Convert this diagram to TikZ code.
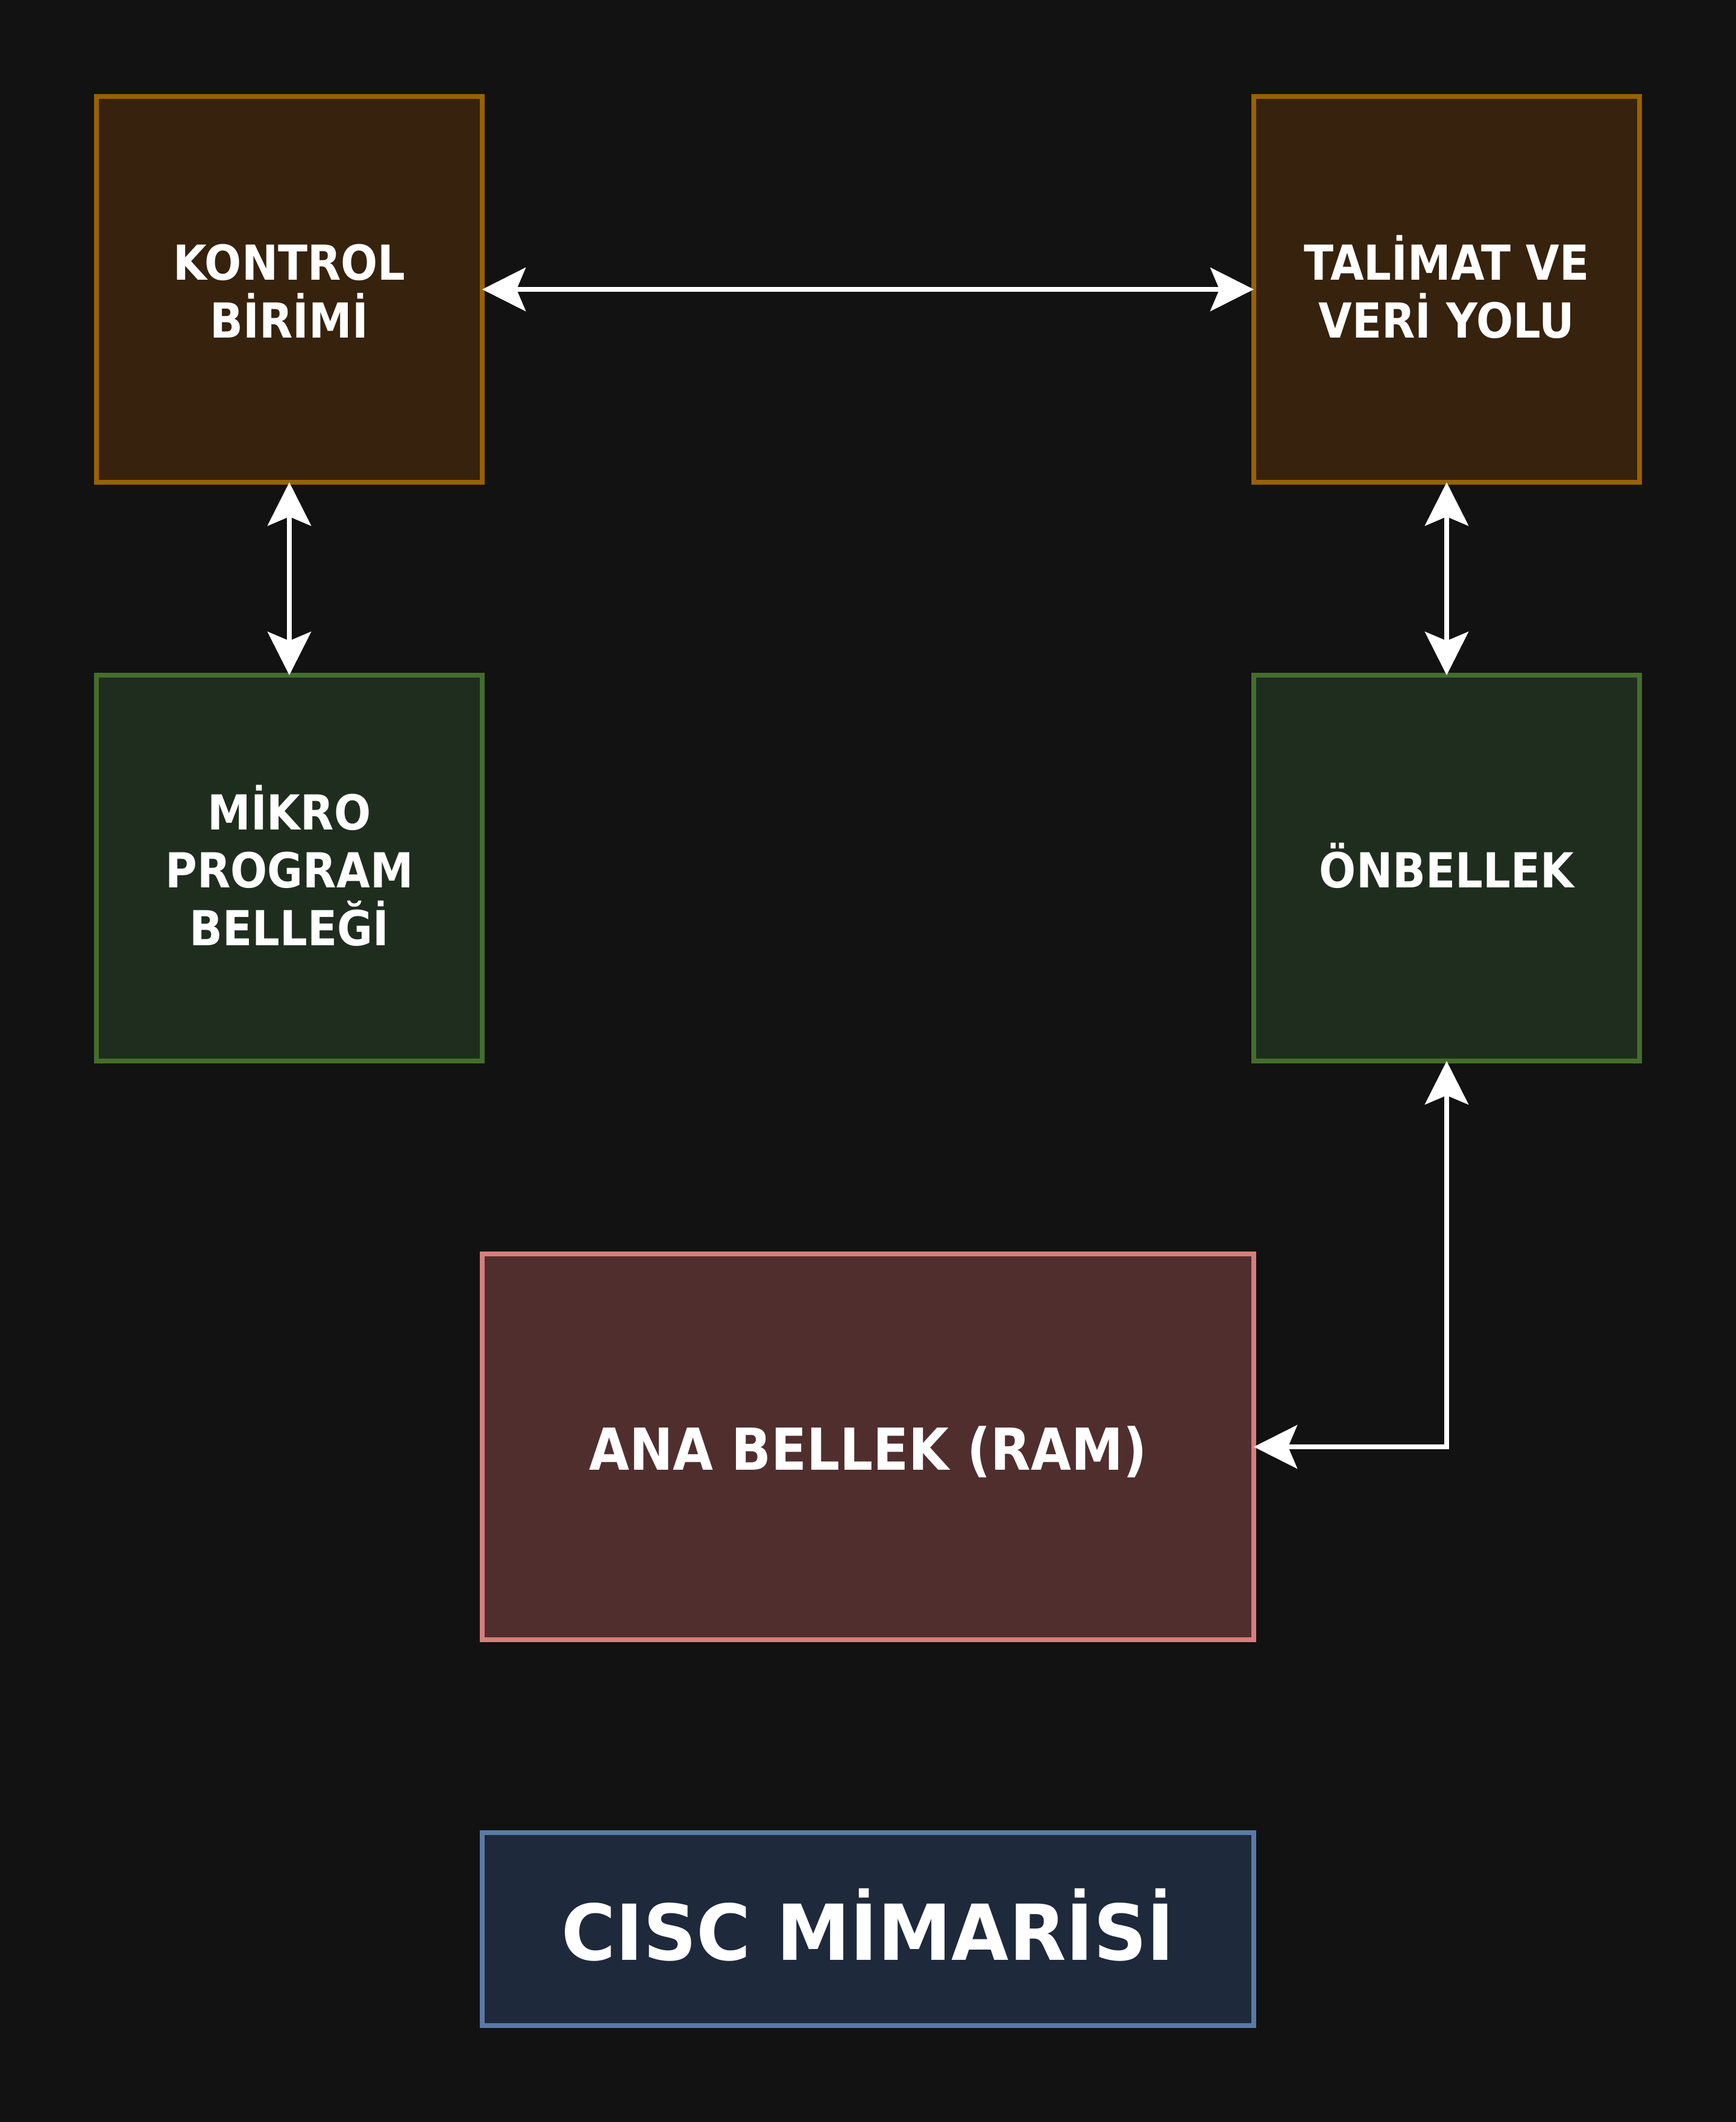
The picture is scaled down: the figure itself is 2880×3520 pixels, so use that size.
\documentclass[tikz,border=0pt]{standalone}
\usepackage{fontspec}
\setmainfont{DejaVu Sans}[FakeStretch=0.9]
\newfontfamily\ciscfont{DejaVu Sans}[FakeStretch=0.96]
\usetikzlibrary{arrows.meta}
\definecolor{bg}{HTML}{121212}
\definecolor{brownfill}{HTML}{36220D}
\definecolor{brownline}{HTML}{996100}
\definecolor{greenfill}{HTML}{1F2D1E}
\definecolor{greenline}{HTML}{446E2C}
\definecolor{redfill}{HTML}{512E2E}
\definecolor{redline}{HTML}{D67E7C}
\definecolor{bluefill}{HTML}{1E293B}
\definecolor{blueline}{HTML}{5A7AA6}
\newcommand\lnstrut{\rule[-0.2em]{0pt}{1.2em}}
\begin{document}
\begin{tikzpicture}[x=0.1pt,y=-0.1pt,
  box/.style={rectangle, line width=0.8pt, minimum width=64pt, minimum height=64pt,
    inner sep=0pt, outer sep=0pt, text=white, align=center,
    font=\fontsize{8pt}{9.6pt}\selectfont\bfseries},
  brownbox/.style={box, draw=brownline, fill=brownfill},
  greenbox/.style={box, draw=greenline, fill=greenfill},
  rambox/.style={box, draw=redline, fill=redfill, minimum width=128pt,
    font=\fontsize{9.6pt}{11.52pt}\selectfont\bfseries},
  titlebox/.style={box, draw=blueline, fill=bluefill, minimum width=128pt, minimum height=32pt,
    font=\fontsize{12.8pt}{15.36pt}\selectfont\ciscfont\bfseries},
  tip/.tip={Stealth[length=7.2pt,width=7.2pt,inset=1.5pt]},
  link/.style={draw=white, line width=0.8pt, tip-tip}
]
\fill[bg] (0,0) rectangle (2880,3520);
\useasboundingbox (0,0) rectangle (2880,3520);

\node[brownbox] (kontrol) at (480,480) {\lnstrut KONTROL\\\lnstrut BİRİMİ};
\node[brownbox] (talimat) at (2400,480) {\lnstrut TALİMAT VE\\\lnstrut VERİ YOLU};
\node[greenbox] (mikro) at (480,1440) {\lnstrut MİKRO\\\lnstrut PROGRAM\\\lnstrut BELLEĞİ};
\node[greenbox] (onbellek) at (2400,1440) {\lnstrut ÖNBELLEK};
\node[rambox] (ram) at (1440,2400) {\lnstrut ANA BELLEK (RAM)};
\node[titlebox] (cisc) at (1440,3200) {\lnstrut CISC MİMARİSİ};

\draw[link] (kontrol.east) -- (talimat.west);
\draw[link] (kontrol.south) -- (mikro.north);
\draw[link] (talimat.south) -- (onbellek.north);
\draw[link] (onbellek.south) |- (ram.east);
\end{tikzpicture}
\end{document}
